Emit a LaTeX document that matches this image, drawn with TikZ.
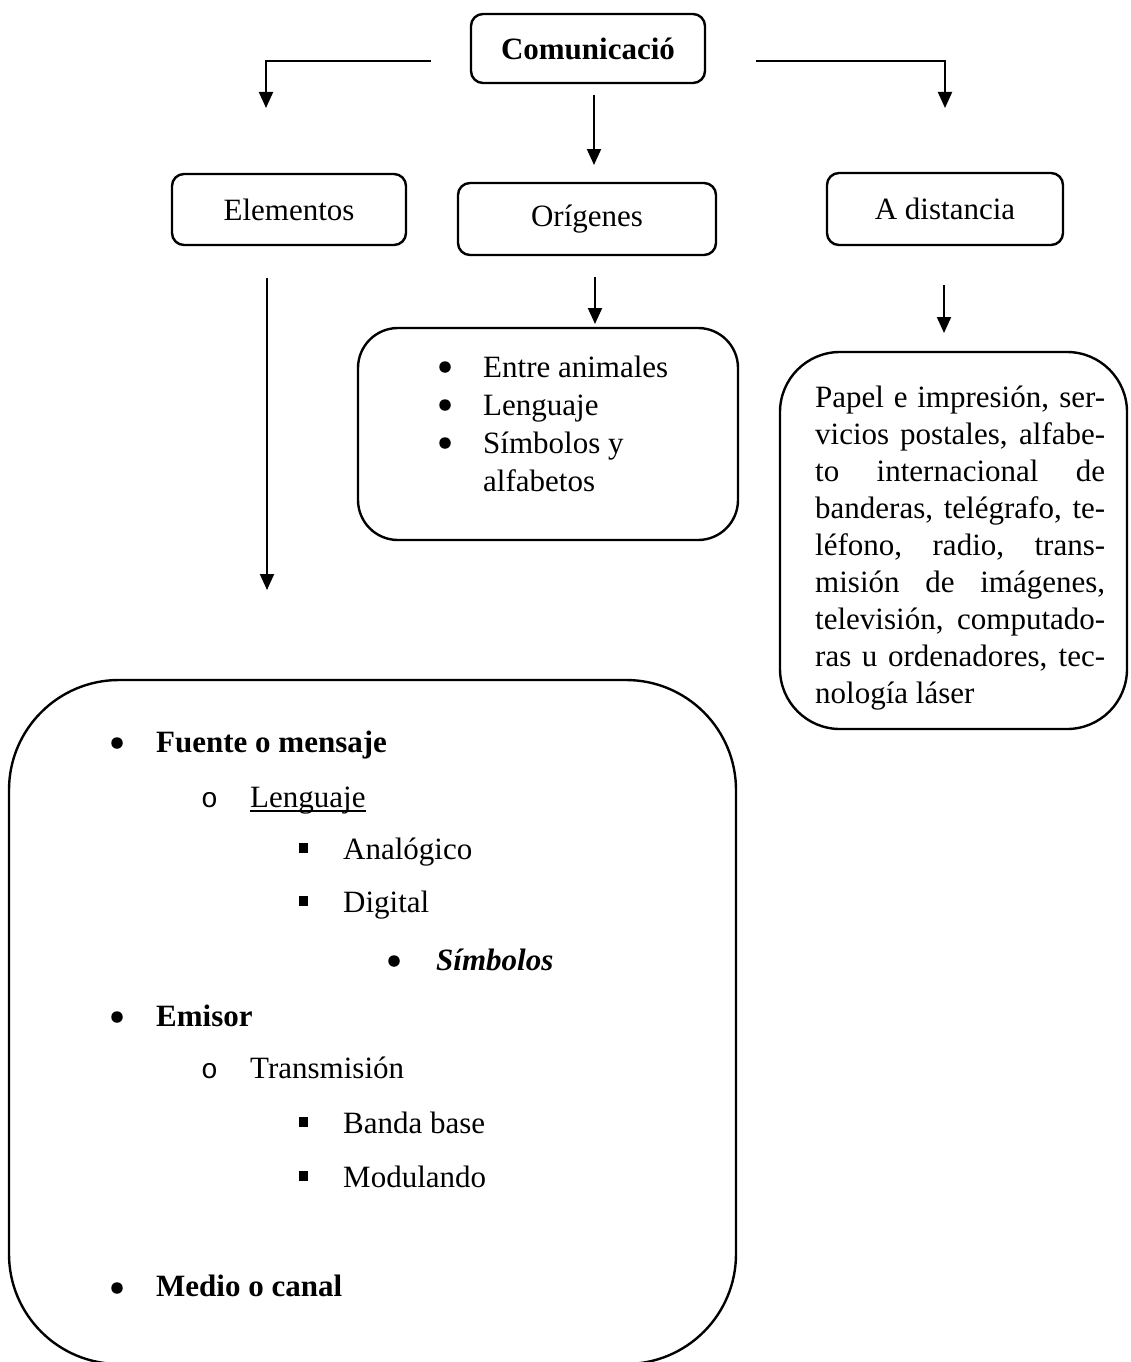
\documentclass[tikz,border=0pt]{standalone}
\usepackage{fontspec}
\setmainfont{Liberation Serif}
\newfontfamily\monof{Liberation Mono}
\usetikzlibrary{arrows.meta}
\begin{document}
\begin{tikzpicture}[x=1pt,y=-1pt,
  every node/.style={font=\fontsize{31}{37}\selectfont, inner sep=0pt},
  box/.style={draw, line width=2.4pt, rounded corners=12pt, inner sep=0pt},
  arr/.style={line width=2pt, -{Triangle[width=14pt,length=16pt]}},
  txt/.style={anchor=base west},
  sq/.style={fill, minimum width=9pt, minimum height=10pt},
  dot/.style={circle, fill, minimum size=11.5pt},
  circb/.style={anchor=base west, font=\fontsize{28}{30}\monof}
]
\fill[white] (0,0) rectangle (1130,1362);
\useasboundingbox (0,0) rectangle (1130,1362);

% top boxes
\node[box, minimum width=234pt, minimum height=69pt, font=\fontsize{31}{37}\selectfont\bfseries] (com) at (588,48.5) {Comunicació};
\node[box, minimum width=234pt, minimum height=71pt] (ele) at (289,209.5) {Elementos};
\node[box, minimum width=258pt, minimum height=72pt] (ori) at (587,219) {Orígenes};
\node[box, minimum width=236pt, minimum height=72pt] (dis) at (945,209) {A distancia};

% connectors
\coordinate (cL) at (431,61);
\coordinate (tE) at (266,108);
\coordinate (cR) at (756,61);
\coordinate (tA) at (945,108);
\coordinate (cC) at (594,95);
\coordinate (tO) at (594,165);
\coordinate (oS) at (595,277);
\coordinate (oT) at (595,324);
\coordinate (dS) at (944,285);
\coordinate (dT) at (944,333);
\coordinate (eS) at (267,278);
\coordinate (eT) at (267,590);
\draw[arr] (cL) -| (tE);
\draw[arr] (cR) -| (tA);
\draw[arr] (cC) -- (tO);
\draw[arr] (oS) -- (oT);
\draw[arr] (dS) -- (dT);
\draw[arr] (eS) -- (eT);

% origins list
\node[box, rounded corners=40pt, minimum width=380pt, minimum height=212pt] (orl) at (548,434) {};
\node[dot] (ob1) at (445,367) {};
\node[txt] (ot1) at (483,377) {Entre animales};
\node[dot] (ob2) at (445,405) {};
\node[txt] (ot2) at (483,415) {Lenguaje};
\node[dot] (ob3) at (445,443) {};
\node[txt] (ot3) at (483,453) {Símbolos y};
\node[txt] (ot4) at (483,491) {alfabetos};

% distance list
\node[box, rounded corners=60pt, minimum width=347pt, minimum height=377pt] (dsl) at (953.5,540.5) {};
\node[txt] (d1) at (815,407) {\makebox[290pt][s]{Papel e impresión, ser-}};
\node[txt] (d2) at (815,444) {\makebox[290pt][s]{vicios postales, alfabe-}};
\node[txt] (d3) at (815,481) {\makebox[290pt][s]{to internacional de}};
\node[txt] (d4) at (815,518) {\makebox[290pt][s]{banderas, telégrafo, te-}};
\node[txt] (d5) at (815,555) {\makebox[290pt][s]{léfono, radio, trans-}};
\node[txt] (d6) at (815,592) {\makebox[290pt][s]{misión de imágenes,}};
\node[txt] (d7) at (815,629) {\makebox[290pt][s]{televisión, computado-}};
\node[txt] (d8) at (815,666) {\makebox[290pt][s]{ras u ordenadores, tec-}};
\node[txt] (d9) at (815,703) {nología láser};

% elements big box
\node[box, rounded corners=110pt, minimum width=727pt, minimum height=684pt] (big) at (372.5,1022) {};
\node[dot] (b1) at (117,743) {};
\node[txt, font=\fontsize{31}{37}\selectfont\bfseries] (e1) at (156,752) {Fuente o mensaje};
\node[circb] (c1) at (201,807) {o};
\node[txt] (e2) at (250,807) {Lenguaje};
\draw[line width=1.5pt] ([yshift=-4pt]e2.base west) -- ([yshift=-4pt]e2.base east);
\node[sq] (s1) at (303,848) {};
\node[txt] (e3) at (343,859) {Analógico};
\node[sq] (s2) at (303,901) {};
\node[txt] (e4) at (343,912) {Digital};
\node[dot] (b2) at (394,961) {};
\node[txt, font=\fontsize{31}{37}\selectfont\bfseries\itshape] (e5) at (436,970) {Símbolos};
\node[dot] (b3) at (117,1017) {};
\node[txt, font=\fontsize{31}{37}\selectfont\bfseries] (e6) at (156,1026) {Emisor};
\node[circb] (c2) at (201,1078) {o};
\node[txt] (e7) at (250,1078) {Transmisión};
\node[sq] (s3) at (303,1122) {};
\node[txt] (e8) at (343,1133) {Banda base};
\node[sq] (s4) at (303,1176) {};
\node[txt] (e9) at (343,1187) {Modulando};
\node[dot] (b4) at (117,1288) {};
\node[txt, font=\fontsize{31}{37}\selectfont\bfseries] (e10) at (156,1296) {Medio o canal};
\end{tikzpicture}
\end{document}
